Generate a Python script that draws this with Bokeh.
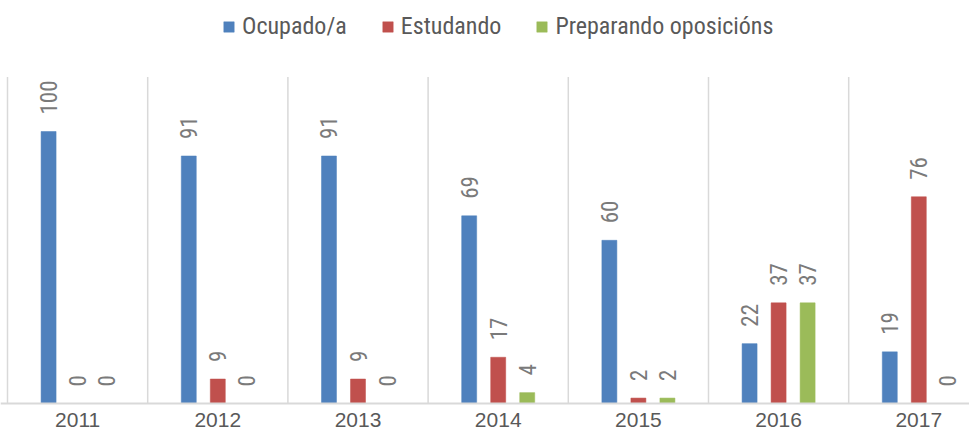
from math import pi
from bokeh.plotting import figure
from bokeh.models import ColumnDataSource, Range1d, Span
from bokeh.transform import dodge
from bokeh.core.properties import value
from bokeh.embed import file_html
from bokeh.resources import INLINE

# ---- data ----
years = ["2011", "2012", "2013", "2014", "2015", "2016", "2017"]
ocupado = [100, 91, 91, 69, 60, 22, 19]
estudando = [0, 9, 9, 17, 2, 37, 76]
preparando = [0, 0, 0, 4, 2, 37, 0]
series_names = ["Ocupado/a", "Estudando", "Preparando oposicións"]
colors = ["#4F81BD", "#C0504D", "#9BBB59"]
y_axis_max = 120

COND_NAME = "Roboto Condensed"
COND = value(COND_NAME)
REG = value("Liberation Sans")

n = len(years)
centers = [i + 0.5 for i in range(n)]
src = ColumnDataSource(dict(
    x=centers, years=years, zero=[0] * n,
    ocupado=ocupado, estudando=estudando, preparando=preparando,
    l_ocupado=[str(v) for v in ocupado],
    l_estudando=[str(v) for v in estudando],
    l_preparando=[str(v) for v in preparando],
))

W, H = 969, 433
cat_px = 140.2
left_px = 7
x0 = -left_px / cat_px
px_per_unit = 2.72
base_px = 403
y_start = -(H - base_px) / px_per_unit
y_end = base_px / px_per_unit

p = figure(width=W, height=H, output_backend="svg", toolbar_location=None,
           x_range=Range1d(x0, x0 + W / cat_px), y_range=Range1d(y_start, y_end),
           x_axis_location=None, y_axis_location=None,
           min_border=0, outline_line_color=None)
p.xgrid.visible = False
p.ygrid.visible = False
p.background_fill_color = "white"
p.border_fill_color = "white"

# category separators
bounds = list(range(n + 1))
p.segment(x0=bounds, y0=[0] * len(bounds), x1=bounds, y1=[y_axis_max] * len(bounds),
          line_color="#D9D9D9", line_width=1.5)
p.add_layout(Span(location=0, dimension="width", line_color="#D9D9D9", line_width=2))

offsets = [-0.207, 0.0, 0.207]
fields = ["ocupado", "estudando", "preparando"]
bw = 0.107
for f, off, c, name in zip(fields, offsets, colors, series_names):
    xd = dodge("x", off, range=p.x_range)
    p.vbar(x=xd, top=f, width=bw, bottom=0, source=src, fill_color=c,
           line_color=c, line_width=0.5, legend_label=name)
    p.text(x=xd, y=f, text="l_" + f, source=src, angle=pi / 2,
           text_align="left", text_baseline="middle", y_offset=-17,
           text_font=COND, text_font_size="23px", text_color="#7A7A7A")

# category labels
p.text(x="x", y="zero", text="years", source=src, text_align="center",
       text_baseline="top", y_offset=9, text_font=REG,
       text_font_size="21px", text_color="#595959")

lg = p.legend[0]
lg.orientation = "horizontal"
lg.location = (222, 393)
lg.padding = 0
lg.margin = 0
lg.spacing = 34
lg.border_line_color = None
lg.background_fill_alpha = 0
lg.glyph_width = 13
lg.glyph_height = 13
lg.label_standoff = 7
lg.label_text_font = COND_NAME
lg.label_text_font_size = "24px"
lg.label_text_color = "#595959"

open("out.html", "w").write(file_html(p, INLINE))
